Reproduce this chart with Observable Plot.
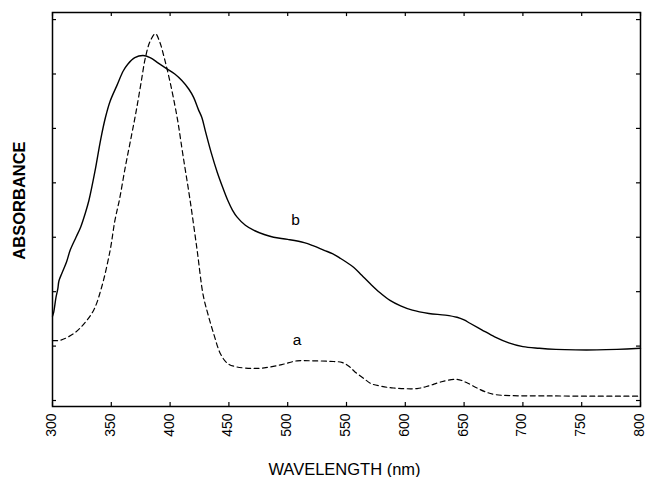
<!DOCTYPE html>
<html>
<head>
<meta charset="utf-8">
<script src="https://cdn.jsdelivr.net/npm/d3@7"></script>
<script src="https://cdn.jsdelivr.net/npm/@observablehq/plot@0.6"></script>
<style>
  html, body { margin: 0; padding: 0; background: #fff; }
  #chart { width: 646px; height: 477px; }
</style>
</head>
<body>
<div id="chart"></div>
<script>
// Wavelength (nm) and absorbance (arbitrary units) for curve a (dashed)
const waveA = [300,307,318,326,335,342,349,353,357,362,367,371,375,379,383,387.5,391,395,400,406,411,417,423,428,432,437,443,449,456,470,480,495,508,520,536,546,552,557,565,571,580,590,610,620,630,644,652,660,668,676,690,720,760,800];
const absA  = [1.10,1.11,1.23,1.39,1.66,2.10,2.76,3.30,3.70,4.30,4.85,5.30,5.80,6.30,6.60,6.74,6.60,6.30,5.85,5.20,4.50,3.68,2.76,1.95,1.60,1.23,0.85,0.68,0.62,0.59,0.60,0.66,0.73,0.73,0.72,0.70,0.63,0.53,0.40,0.31,0.26,0.23,0.22,0.27,0.34,0.39,0.33,0.24,0.16,0.11,0.09,0.085,0.08,0.08];
// Curve b (solid)
const waveB = [300,301,303,304.5,305.5,308,312,315,320,324,328,331,336,341,345,349,355,360,364,370,377,383,390,397,404,410,416,420,424,427,430,435,440,445,449,453,457,464,471,480,488,500,514,522,531,538,545,550,556,563,570,578,587,596,606,620,634,644,650,655,665,676,688,700,714,728,745,763,780,800];
const absB  = [1.55,1.62,1.90,2.05,2.20,2.34,2.55,2.76,3.00,3.19,3.45,3.68,4.20,4.80,5.20,5.50,5.80,6.05,6.18,6.30,6.34,6.30,6.20,6.10,6.00,5.88,5.72,5.57,5.35,5.20,4.95,4.55,4.20,3.90,3.68,3.50,3.37,3.22,3.13,3.05,3.00,2.96,2.90,2.84,2.76,2.70,2.61,2.54,2.45,2.30,2.15,1.99,1.84,1.74,1.66,1.60,1.57,1.53,1.48,1.42,1.30,1.17,1.06,0.99,0.96,0.94,0.93,0.93,0.94,0.96];
const xTicks = [300,350,400,450,500,550,600,650,700,750,800];
const yTicks = [0,1,2,3,4,5,6,7];
const curveLabels = ["a","b"];
const labelWave = [508, 506.6];
const labelAbs  = [1.11, 3.32];
const xTitle = "WAVELENGTH (nm)";
const yTitle = "ABSORBANCE";

const dataA = waveA.map((w,i)=>({w, v: absA[i]}));
const dataB = waveB.map((w,i)=>({w, v: absB[i]}));
const labels = curveLabels.map((t,i)=>({t, w: labelWave[i], v: labelAbs[i]}));
const X0 = 300, X1 = 800, Y0 = -0.11, Y1 = 7.13;
const tx = 3.4, ty = 0.075;

const chart = Plot.plot({
  width: 646, height: 477,
  marginLeft: 52, marginRight: 6, marginTop: 12, marginBottom: 71,
  style: {fontFamily: "'Liberation Sans', Arial, sans-serif", background: "#fff", color: "#000"},
  x: {domain: [X0, X1]},
  y: {domain: [Y0, Y1], axis: null},
  marks: [
    Plot.axisX({ticks: xTicks, tickSize: 0, tickRotate: -90, tickPadding: 7, fontSize: 14, dx: -1, label: null}),
    Plot.ruleX(xTicks, {x: d=>d, y1: Y0, y2: Y0+ty, stroke: "#000", strokeWidth: 1.2}),
    Plot.ruleX(xTicks, {x: d=>d, y1: Y1, y2: Y1-ty, stroke: "#000", strokeWidth: 1.2}),
    Plot.ruleY(yTicks, {y: d=>d, x1: X0, x2: X0+tx, stroke: "#000", strokeWidth: 1.2}),
    Plot.ruleY(yTicks, {y: d=>d, x1: X1, x2: X1-tx, stroke: "#000", strokeWidth: 1.2}),
    Plot.frame({stroke: "#000", strokeWidth: 1.5}),
    Plot.line(dataA, {x: "w", y: "v", curve: "catmull-rom", stroke: "#000", strokeWidth: 1.2, strokeDasharray: "5,3.5"}),
    Plot.line(dataB, {x: "w", y: "v", curve: "catmull-rom", stroke: "#000", strokeWidth: 1.4}),
    Plot.text(labels, {x: "w", y: "v", text: "t", fontSize: 15.5, fill: "#000"}),
    Plot.text([yTitle], {frameAnchor: "left", textAnchor: "middle", dx: -33, dy: -9, rotate: -90, fontSize: 16.5, fontWeight: "bold", fill: "#000"}),
    Plot.text([xTitle], {frameAnchor: "bottom", textAnchor: "middle", dx: -2, dy: 68, lineAnchor: "bottom", fontSize: 16.5, fill: "#000"})
  ]
});
document.getElementById("chart").appendChild(chart);
</script>
</body>
</html>
